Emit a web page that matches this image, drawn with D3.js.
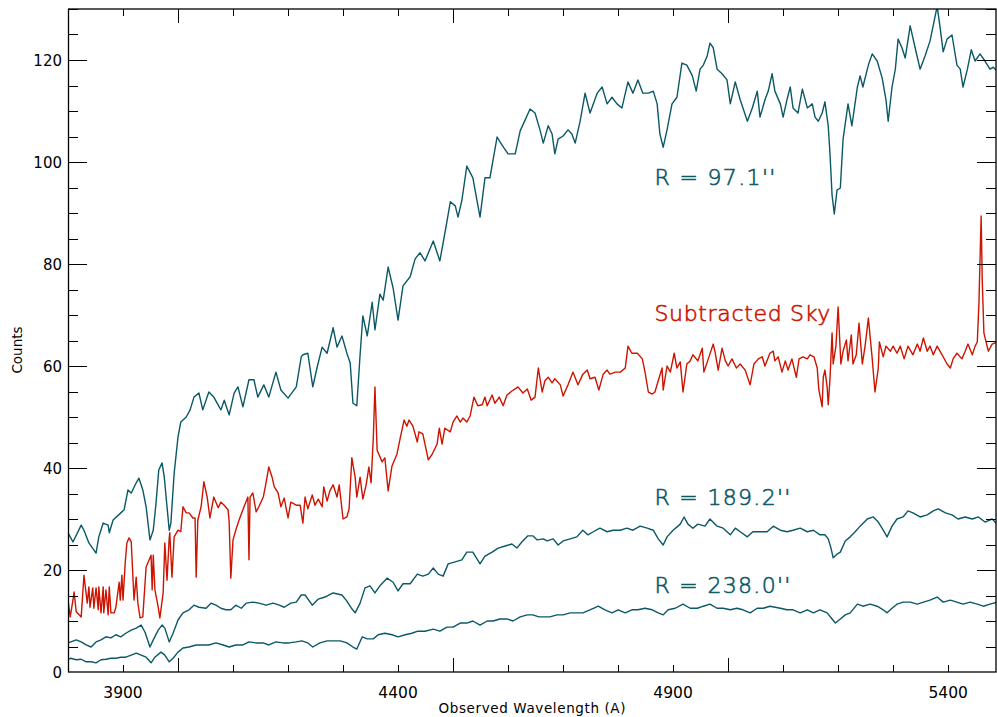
<!DOCTYPE html>
<html>
<head>
<meta charset="utf-8">
<script src="https://cdn.jsdelivr.net/npm/d3@7"></script>
<style>
  body { margin: 0; background: #fff; }
  svg text { font-family: "DejaVu Sans", sans-serif; }
  .note { font-weight: 200; stroke-width: 0.6; }
</style>
</head>
<body>
<svg id="canvas" width="997" height="717"></svg>
<script>
// spectra as [wavelength (A), counts]
const r97 = [[3800,27.3],[3809,25.5],[3824,28.8],[3829,27.8],[3838,25.3],[3851,23.3],[3856,26.5],[3864,29.2],[3873,28.8],[3875,27.3],[3882,29.8],[3896,31.2],[3902,31.8],[3909,35.7],[3915,35.1],[3924,37.1],[3929,38.0],[3936,35.7],[3942,32.4],[3949,25.9],[3955,27.8],[3960,33.1],[3965,39.6],[3971,41.0],[3975,38.2],[3984,27.8],[3987,29.2],[3993,39.0],[4000,46.1],[4005,49.0],[4015,50.0],[4022,51.4],[4029,53.9],[4038,54.7],[4045,51.4],[4056,54.9],[4065,53.9],[4078,51.4],[4084,53.3],[4093,50.4],[4102,54.7],[4109,55.9],[4118,52.0],[4129,57.3],[4138,57.3],[4145,53.9],[4156,56.3],[4165,53.9],[4178,58.8],[4187,55.3],[4200,53.7],[4215,55.9],[4224,61.8],[4227,62.2],[4236,62.5],[4245,55.9],[4253,59.8],[4262,63.7],[4271,62.5],[4282,67.5],[4289,63.7],[4298,65.9],[4307,62.5],[4313,60.6],[4318,52.7],[4325,52.2],[4331,62.2],[4336,69.8],[4344,65.9],[4353,72.5],[4358,67.1],[4367,74.1],[4373,72.9],[4382,79.4],[4391,75.3],[4400,69.0],[4409,75.7],[4422,77.5],[4431,81.0],[4440,82.2],[4449,80.6],[4464,84.5],[4476,80.6],[4489,88.4],[4495,92.2],[4504,91.4],[4509,89.2],[4516,92.5],[4525,99.2],[4536,96.9],[4549,89.2],[4558,96.9],[4567,96.9],[4580,104.9],[4589,103.3],[4600,101.6],[4613,101.6],[4622,106.1],[4640,110.4],[4649,109.6],[4658,106.3],[4664,103.7],[4673,107.1],[4680,105.5],[4685,101.6],[4691,104.5],[4700,105.1],[4709,106.3],[4716,105.5],[4722,103.7],[4731,108.0],[4740,113.5],[4749,109.6],[4762,113.5],[4771,114.7],[4780,111.4],[4789,112.7],[4798,111.4],[4807,110.6],[4818,115.7],[4827,113.5],[4836,116.1],[4845,113.5],[4855,113.5],[4864,113.9],[4871,111.4],[4876,105.5],[4882,102.9],[4889,106.3],[4898,111.4],[4907,112.7],[4916,119.4],[4925,119.0],[4935,116.9],[4942,113.9],[4949,118.2],[4955,119.0],[4962,120.8],[4967,123.3],[4973,122.4],[4980,118.2],[4989,117.3],[4998,116.1],[5004,111.4],[5013,115.7],[5022,112.2],[5035,108.0],[5044,110.6],[5053,113.9],[5058,108.8],[5067,112.2],[5073,113.9],[5080,117.3],[5085,113.9],[5095,111.4],[5100,108.8],[5107,112.2],[5113,114.7],[5118,110.6],[5127,109.6],[5135,114.3],[5144,110.6],[5153,111.4],[5158,108.8],[5164,108.0],[5171,109.6],[5176,111.8],[5182,107.1],[5185,102.0],[5189,93.5],[5193,89.8],[5198,94.5],[5204,94.9],[5209,104.5],[5218,111.4],[5225,107.1],[5235,114.7],[5240,116.9],[5245,114.7],[5255,119.0],[5262,121.2],[5271,119.8],[5280,116.5],[5287,112.2],[5291,108.0],[5298,114.7],[5304,118.2],[5309,124.1],[5316,122.4],[5322,120.4],[5331,126.7],[5340,122.4],[5349,118.2],[5358,120.8],[5367,123.7],[5376,128.4],[5380,130.5],[5385,126.7],[5391,121.6],[5398,124.1],[5407,124.9],[5416,119.0],[5422,118.2],[5427,114.7],[5435,118.2],[5442,122.0],[5449,119.8],[5458,121.2],[5467,119.8],[5476,118.2],[5482,118.6],[5489,117.8]];

const sky = [[3800,14.1],[3804,10.8],[3809,14.1],[3811,15.7],[3815,11.8],[3824,10.8],[3829,19.0],[3835,13.5],[3838,16.7],[3840,12.7],[3845,16.5],[3847,12.5],[3851,16.5],[3855,12.2],[3856,16.7],[3860,11.6],[3864,16.7],[3865,11.6],[3869,16.1],[3873,11.2],[3875,16.7],[3878,11.6],[3884,11.6],[3887,12.7],[3893,17.6],[3895,14.1],[3898,19.0],[3900,14.1],[3904,21.4],[3907,25.3],[3911,26.3],[3915,25.5],[3920,14.1],[3924,18.6],[3927,13.5],[3931,10.6],[3936,10.8],[3942,20.6],[3951,22.9],[3953,16.1],[3955,22.9],[3958,16.1],[3964,12.7],[3967,10.6],[3973,15.5],[3976,25.3],[3980,18.0],[3984,26.3],[3985,27.3],[3989,18.6],[3993,26.5],[4000,27.8],[4005,27.5],[4009,32.4],[4015,31.2],[4020,31.2],[4027,30.2],[4031,30.2],[4033,18.6],[4036,29.8],[4042,32.4],[4047,37.3],[4053,34.3],[4058,30.2],[4065,34.3],[4073,32.2],[4078,33.3],[4084,32.7],[4091,31.8],[4093,29.4],[4096,18.4],[4100,25.9],[4105,27.8],[4111,29.8],[4120,32.4],[4127,34.3],[4129,22.0],[4131,34.3],[4136,35.1],[4142,31.4],[4147,32.4],[4155,34.3],[4160,37.1],[4165,40.2],[4171,38.2],[4175,36.3],[4182,35.1],[4187,32.4],[4193,34.1],[4200,30.2],[4205,33.3],[4215,32.7],[4222,32.7],[4227,29.2],[4231,34.3],[4236,32.0],[4244,34.7],[4249,32.7],[4255,33.9],[4262,32.4],[4265,36.3],[4271,33.5],[4276,35.5],[4282,36.7],[4289,34.3],[4293,36.7],[4300,30.0],[4307,30.4],[4311,32.0],[4316,42.0],[4322,38.2],[4325,34.3],[4331,38.2],[4336,33.9],[4342,36.7],[4347,40.2],[4351,37.1],[4355,45.9],[4358,55.9],[4362,43.5],[4371,41.2],[4376,42.0],[4382,35.5],[4389,40.4],[4398,42.7],[4404,45.9],[4411,49.4],[4416,48.2],[4420,49.4],[4427,48.2],[4435,45.1],[4438,47.1],[4445,46.7],[4455,41.6],[4462,42.7],[4471,44.7],[4475,47.8],[4480,44.7],[4485,47.8],[4495,47.1],[4500,49.0],[4507,50.2],[4513,49.0],[4518,49.8],[4525,49.0],[4531,50.2],[4538,53.9],[4545,52.2],[4553,52.4],[4558,53.9],[4562,52.2],[4571,54.3],[4576,52.7],[4584,53.9],[4591,52.2],[4598,54.3],[4607,55.1],[4613,55.5],[4618,55.9],[4627,54.7],[4635,55.5],[4642,53.3],[4649,53.9],[4655,59.6],[4662,54.9],[4667,57.1],[4673,57.8],[4680,56.7],[4685,57.5],[4695,56.3],[4700,54.1],[4709,56.3],[4718,58.8],[4727,56.3],[4736,58.4],[4744,59.2],[4749,57.5],[4758,57.8],[4765,55.3],[4773,58.4],[4780,59.2],[4785,58.4],[4795,58.8],[4804,58.8],[4813,59.6],[4818,63.9],[4825,62.5],[4835,62.5],[4844,61.4],[4849,58.8],[4855,54.9],[4862,54.5],[4867,54.9],[4873,57.1],[4880,59.6],[4882,55.3],[4889,60.0],[4895,58.8],[4902,62.5],[4907,59.6],[4913,60.8],[4918,54.9],[4925,60.4],[4931,61.0],[4936,62.2],[4945,61.0],[4953,63.5],[4956,58.8],[4964,61.4],[4973,64.3],[4976,62.9],[4982,59.2],[4989,63.5],[4995,61.0],[5000,60.0],[5007,61.4],[5015,59.6],[5022,60.4],[5031,59.2],[5040,56.3],[5047,60.4],[5055,61.4],[5062,61.8],[5067,60.0],[5076,62.5],[5082,62.9],[5085,61.0],[5091,61.8],[5098,58.8],[5104,61.0],[5109,59.2],[5116,61.4],[5124,57.8],[5129,61.4],[5136,61.8],[5144,61.4],[5149,62.2],[5156,61.8],[5162,59.6],[5165,55.3],[5171,52.0],[5173,57.8],[5176,59.2],[5180,55.9],[5182,52.4],[5185,57.1],[5189,66.5],[5191,60.4],[5196,63.9],[5200,71.6],[5205,60.4],[5209,62.9],[5215,65.1],[5218,61.0],[5224,66.1],[5227,60.4],[5233,62.2],[5238,68.4],[5244,60.4],[5249,63.9],[5255,69.4],[5262,61.4],[5267,54.9],[5273,59.6],[5275,64.7],[5282,61.8],[5287,63.9],[5295,62.9],[5300,63.9],[5307,62.5],[5313,63.9],[5320,61.4],[5327,63.9],[5336,62.2],[5344,64.3],[5349,62.9],[5355,65.5],[5362,62.9],[5367,63.9],[5373,62.2],[5380,63.9],[5389,62.2],[5398,60.4],[5404,59.6],[5409,61.4],[5416,62.5],[5425,61.4],[5431,62.9],[5436,64.3],[5444,62.2],[5449,63.9],[5453,64.7],[5456,72.4],[5460,89.4],[5462,76.7],[5465,66.5],[5473,62.9],[5480,64.3],[5489,64.7]];

const r189 = [[3800,5.7],[3805,5.9],[3815,6.3],[3824,5.9],[3833,5.3],[3842,4.9],[3851,5.9],[3860,6.3],[3869,6.9],[3878,6.7],[3887,7.3],[3896,6.9],[3905,7.6],[3915,8.2],[3924,8.6],[3933,9.2],[3940,7.8],[3949,4.9],[3955,6.3],[3964,8.2],[3971,9.2],[3976,8.6],[3984,5.9],[3991,7.6],[4000,10.2],[4009,11.6],[4020,12.2],[4029,13.1],[4038,12.7],[4051,12.5],[4060,13.5],[4069,13.1],[4078,12.5],[4087,12.2],[4096,12.2],[4105,13.1],[4115,12.5],[4124,13.5],[4136,13.7],[4147,13.5],[4160,13.1],[4173,13.5],[4184,13.1],[4193,12.7],[4205,13.5],[4215,13.7],[4224,15.1],[4231,15.1],[4244,13.1],[4255,14.3],[4267,14.7],[4282,15.5],[4298,15.1],[4307,13.9],[4316,12.4],[4322,11.6],[4331,13.5],[4340,16.5],[4349,16.9],[4358,15.5],[4367,16.9],[4380,18.4],[4391,17.6],[4400,15.9],[4409,17.3],[4422,17.3],[4435,19.2],[4445,18.8],[4455,19.2],[4464,20.4],[4473,19.2],[4482,18.8],[4491,21.2],[4504,21.6],[4516,22.0],[4525,23.5],[4536,23.5],[4549,21.2],[4558,22.7],[4571,23.5],[4582,24.3],[4595,24.7],[4607,25.1],[4616,24.3],[4625,25.5],[4636,26.7],[4645,26.7],[4653,25.9],[4664,26.1],[4671,25.7],[4682,26.1],[4691,24.9],[4700,25.7],[4713,26.1],[4725,26.5],[4736,27.8],[4745,26.9],[4755,27.5],[4767,28.2],[4780,27.5],[4791,27.8],[4804,27.8],[4816,28.2],[4827,27.8],[4840,28.6],[4853,28.2],[4864,27.8],[4873,26.1],[4882,24.9],[4889,26.5],[4900,27.8],[4913,29.0],[4920,30.4],[4927,29.0],[4936,28.2],[4945,29.0],[4958,28.6],[4967,30.0],[4980,28.6],[4991,28.2],[5004,26.9],[5013,28.2],[5022,27.5],[5035,26.5],[5045,27.5],[5058,27.5],[5071,27.5],[5082,28.6],[5095,27.8],[5107,27.5],[5118,27.8],[5131,28.2],[5144,27.5],[5155,27.8],[5167,26.9],[5176,26.9],[5182,26.1],[5187,24.3],[5191,22.4],[5198,23.1],[5204,23.5],[5213,25.7],[5222,26.5],[5231,27.5],[5240,28.6],[5253,30.0],[5264,30.4],[5273,29.4],[5282,27.8],[5289,26.5],[5298,28.6],[5307,30.0],[5318,30.4],[5327,31.6],[5336,31.2],[5349,30.4],[5362,30.8],[5373,31.6],[5382,32.0],[5395,31.2],[5407,30.8],[5418,30.0],[5431,30.4],[5444,30.0],[5455,30.4],[5467,29.4],[5480,30.0],[5489,29.0]];

const r238 = [[3800,2.4],[3805,2.7],[3815,2.4],[3824,2.5],[3833,2.0],[3842,2.0],[3851,1.8],[3860,2.4],[3869,2.5],[3878,2.7],[3887,2.7],[3896,2.9],[3905,2.9],[3915,3.3],[3924,3.7],[3933,3.3],[3942,2.9],[3951,1.8],[3958,2.9],[3969,3.9],[3976,3.3],[3984,2.0],[3991,2.7],[4000,3.9],[4009,4.7],[4020,4.9],[4033,5.3],[4045,5.3],[4056,5.3],[4069,5.7],[4082,5.3],[4093,4.9],[4105,5.3],[4118,5.3],[4129,5.9],[4142,5.7],[4155,5.7],[4165,5.3],[4178,5.9],[4191,5.7],[4202,5.7],[4215,5.9],[4225,6.1],[4236,5.7],[4245,4.9],[4258,5.7],[4271,6.1],[4282,6.1],[4295,6.1],[4307,5.7],[4318,4.9],[4325,4.5],[4335,6.9],[4344,6.5],[4355,6.5],[4364,7.3],[4376,7.6],[4389,7.3],[4400,6.9],[4413,7.3],[4425,7.6],[4436,8.0],[4449,8.0],[4464,8.4],[4476,8.0],[4489,8.8],[4500,8.8],[4513,9.6],[4525,9.6],[4536,10.0],[4549,9.2],[4562,10.0],[4573,10.0],[4585,10.4],[4598,10.4],[4609,10.0],[4622,10.8],[4635,11.2],[4645,11.2],[4656,10.8],[4664,10.8],[4676,10.8],[4689,11.2],[4700,11.2],[4713,11.6],[4725,11.6],[4736,11.6],[4749,12.2],[4764,12.9],[4776,12.2],[4789,11.6],[4800,12.2],[4813,11.6],[4825,12.2],[4836,12.2],[4849,12.5],[4862,12.2],[4873,11.6],[4882,11.2],[4891,12.2],[4904,12.5],[4918,13.3],[4931,12.5],[4944,12.5],[4955,12.9],[4967,13.3],[4980,12.5],[4991,12.5],[5004,12.2],[5016,12.5],[5027,12.2],[5040,11.6],[5053,12.5],[5064,12.5],[5076,12.9],[5095,12.5],[5107,12.2],[5118,12.2],[5131,11.6],[5144,12.2],[5155,11.6],[5167,12.2],[5180,11.6],[5189,10.4],[5195,9.6],[5204,10.4],[5213,11.2],[5222,11.6],[5235,13.3],[5245,12.9],[5258,13.3],[5271,12.9],[5282,12.2],[5289,11.6],[5298,12.5],[5307,13.3],[5318,13.7],[5331,13.7],[5344,13.3],[5355,13.7],[5367,14.1],[5380,14.7],[5391,13.7],[5404,14.1],[5416,13.7],[5427,13.3],[5440,13.7],[5453,13.3],[5464,12.9],[5476,13.3],[5489,13.7]];

const xTickLabels = [3900, 4400, 4900, 5400];
const xMajorTicks = [4000, 4500, 5000];
const yTickLabels = [0, 20, 40, 60, 80, 100, 120];
const labelTexts = ["R = 97.1''", "Subtracted Sky", "R = 189.2''", "R = 238.0''"];

const teal = "#0b5866";
const red = "#cc1400";

const svg = d3.select("#canvas");
const width = 997;
const height = 717;
const margin = { top: 9, right: 1, bottom: 45, left: 68 };
const innerW = width - margin.left - margin.right;
const innerH = height - margin.top - margin.bottom;

const x = d3.scaleLinear().domain([3800, 5487]).range([margin.left, width - margin.right]);
const y = d3.scaleLinear().domain([0, 130]).range([height - margin.bottom, margin.top]);

svg.append("clipPath").attr("id", "plot-clip")
    .append("rect")
    .attr("x", margin.left)
    .attr("y", margin.top)
    .attr("width", innerW)
    .attr("height", innerH);

const line = d3.line()
    .x(d => x(d[0]))
    .y(d => y(d[1]));

const series = [
    { data: r238, color: teal },
    { data: r189, color: teal },
    { data: sky, color: red },
    { data: r97, color: teal }
];

svg.append("g")
    .attr("clip-path", "url(#plot-clip)")
    .selectAll("path")
    .data(series)
    .join("path")
    .attr("d", d => line(d.data))
    .attr("fill", "none")
    .attr("stroke", d => d.color)
    .attr("stroke-width", 1.4)
    .attr("stroke-linejoin", "round");

drawAxes();
drawLabels();

function drawAxes() {
    const g = svg.append("g").attr("stroke", "#000").attr("stroke-width", 1);
    const x0 = margin.left, x1 = width - margin.right;
    const y0 = height - margin.bottom, y1 = margin.top;

    g.append("rect")
        .attr("x", x0 + 0.5)
        .attr("y", y1)
        .attr("width", x1 - x0 - 0.5)
        .attr("height", y0 - y1)
        .attr("fill", "none")
        .attr("stroke-width", 1.3);

    // x ticks, bottom and top
    const xMinor = d3.range(3800, 5500, 100).filter(v => !xMajorTicks.includes(v) && x(v) < x1 - 2);
    xMinor.forEach(v => {
        const px = Math.round(x(v)) + 0.5;
        g.append("line").attr("x1", px).attr("x2", px).attr("y1", y0).attr("y2", y0 - 7);
        g.append("line").attr("x1", px).attr("x2", px).attr("y1", y1).attr("y2", y1 + 7);
    });
    xMajorTicks.forEach(v => {
        const px = Math.round(x(v)) + 0.5;
        g.append("line").attr("x1", px).attr("x2", px).attr("y1", y0).attr("y2", y0 - 14);
        g.append("line").attr("x1", px).attr("x2", px).attr("y1", y1).attr("y2", y1 + 14);
    });

    // y ticks, left and right
    d3.range(5, 131, 5).forEach(v => {
        const py = Math.round(y(v)) + 0.5;
        const len = v % 20 === 0 ? 19 : 10;
        g.append("line").attr("x1", x0).attr("x2", x0 + len).attr("y1", py).attr("y2", py);
        g.append("line").attr("x1", x1).attr("x2", x1 - len).attr("y1", py).attr("y2", py);
    });

    svg.append("g")
        .selectAll("text")
        .data(xTickLabels)
        .join("text")
        .attr("x", d => x(d))
        .attr("y", y0 + 26)
        .attr("text-anchor", "middle")
        .attr("font-size", 15.5)
        .attr("fill", "#000")
        .text(d => d);

    svg.append("g")
        .selectAll("text")
        .data(yTickLabels)
        .join("text")
        .attr("x", x0 - 6)
        .attr("y", d => y(d) + 5.5)
        .attr("text-anchor", "end")
        .attr("font-size", 15)
        .attr("fill", "#000")
        .text(d => d);

    svg.append("text")
        .attr("x", 532)
        .attr("y", 713)
        .attr("text-anchor", "middle")
        .attr("font-size", 13.5)
        .attr("textLength", 187)
        .attr("fill", "#000")
        .text("Observed Wavelength (A)");

    svg.append("text")
        .attr("transform", "translate(22,350) rotate(-90)")
        .attr("text-anchor", "middle")
        .attr("font-size", 13.5)
        .attr("fill", "#000")
        .text("Counts");
}

function drawLabels() {
    const anchorWave = 4866;
    const anchors = [95.5, 68.8, 32.7, 15.5];
    const colors = [teal, red, teal, teal];
    const lengths = [121, 176, 136, 136];
    svg.append("g")
        .selectAll("text")
        .data(labelTexts)
        .join("text")
        .attr("class", "note")
        .attr("x", x(anchorWave))
        .attr("y", (d, i) => y(anchors[i]))
        .attr("font-size", 22)
        .attr("textLength", (d, i) => lengths[i])
        .attr("fill", (d, i) => colors[i])
        .attr("stroke", (d, i) => colors[i])
        .text(d => d);
}
</script>
</body>
</html>
